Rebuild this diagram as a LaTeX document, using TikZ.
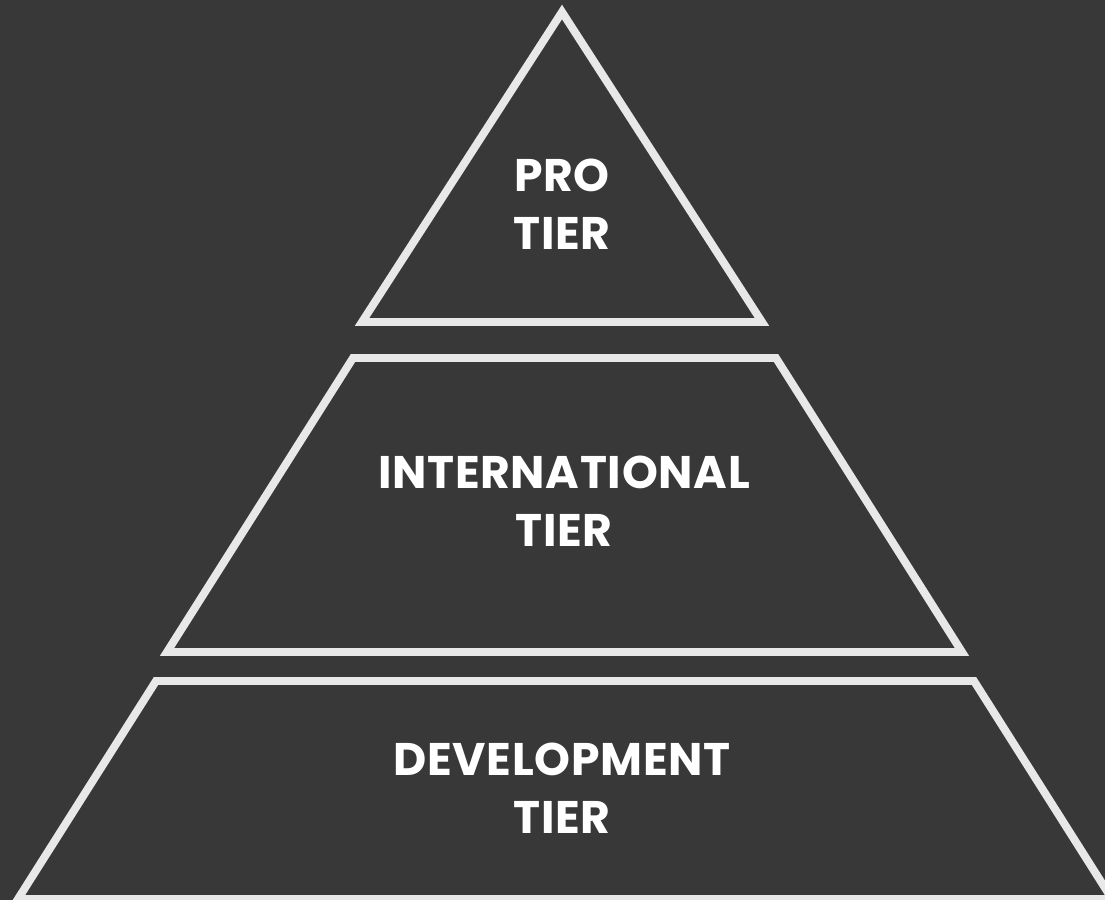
\documentclass[tikz,border=0pt]{standalone}
\usepackage{fontspec}
\setmainfont{Poppins}[LetterSpace=1.5]
\usetikzlibrary{calc}

\definecolor{slate}{RGB}{56,56,56}
\definecolor{chalk}{RGB}{232,232,232}

\tikzset{
  tierline/.style={chalk,line width=4.5pt,line join=miter},
  tiertext/.style={white,align=center,font=\fontsize{26}{33}\selectfont\bfseries}
}

\begin{document}
\begin{tikzpicture}[x=0.02cm,y=-0.02cm]
  \useasboundingbox (0,0) rectangle (1105,899);
  \draw[fill=slate,slate] (0,0) rectangle (1105,899);

  \begin{scope}
    \path[clip] (0,0) rectangle (1105,899);

    % top, middle and bottom tiers
    \draw[tierline] (562,12) -- (762,322) -- (362,322) -- cycle;
    \draw[tierline] (353,358) -- (776,358) -- (962,652) -- (167,652) -- cycle;
    \draw[tierline] (156,681) -- (974,681) -- (1112,899) -- (18,899) -- cycle;
  \end{scope}

  \node[tiertext] (pro) at (562,204) {PRO\\TIER};
  \node[tiertext] (intl) at (564,501) {INTERNATIONAL\\TIER};
  \node[tiertext] (dev) at (562,788) {DEVELOPMENT\\TIER};
\end{tikzpicture}
\end{document}
